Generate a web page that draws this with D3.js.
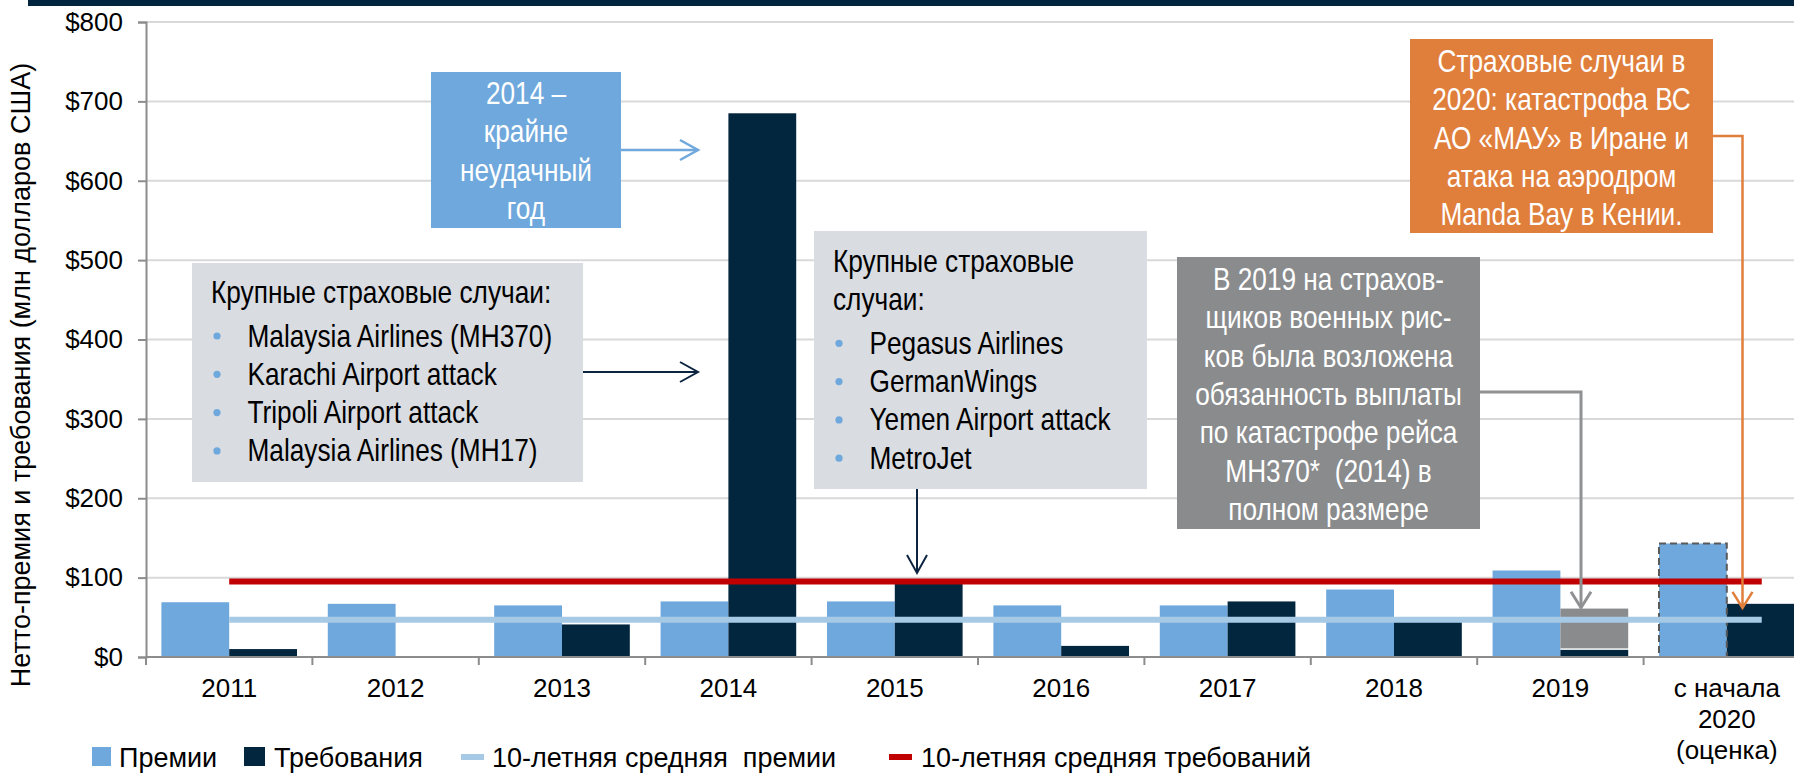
<!DOCTYPE html>
<html>
<head>
<meta charset="utf-8">
<script src="https://cdn.jsdelivr.net/npm/d3@7"></script>
<style>
  body { margin: 0; background: #fff; }
  text { font-family: "Liberation Sans", Arial, sans-serif; white-space: pre; }
</style>
</head>
<body>
<div id="chart"></div>
<script>
// chart data
var years = ["2011", "2012", "2013", "2014", "2015", "2016", "2017", "2018", "2019", "2020"];
var yearLabels = [["2011"], ["2012"], ["2013"], ["2014"], ["2015"], ["2016"], ["2017"], ["2018"], ["2019"], ["с начала", "2020", "(оценка)"]];
var premiums = [69, 67, 65, 70, 70, 65, 65, 85, 109, 143];
var claims = [10, 0, 41, 685, 93, 14, 70, 44, 9, 67];
var mh370Claims = [0, 0, 0, 0, 0, 0, 0, 0, 52, 0];   // MH370 (2014) paid by war-risk insurers in 2019
var avgPremium = 47;
var avgClaims = 95;
var yTicks = [0, 100, 200, 300, 400, 500, 600, 700, 800];
var legendLabels = ["Премии", "Требования", "10-летняя средняя  премии", "10-летняя средняя требований"];

var W = 1794, H = 775;
var margin = {left: 146, top: 22};

var svg = d3.select("#chart").append("svg")
    .attr("width", W)
    .attr("height", H);

// dark strip left from the cut title
svg.append("rect")
    .attr("x", 28).attr("y", 0)
    .attr("width", W - 28).attr("height", 6)
    .attr("fill", "#02253f");

var x = d3.scaleBand()
    .domain(years)
    .range([margin.left, margin.left + 166.4 * years.length]);

var xSub = d3.scaleBand()
    .domain(["premium", "claims"])
    .range([0, x.bandwidth()])
    .paddingOuter(0.227);

var y = d3.scaleLinear()
    .domain([0, 800])
    .range([657, margin.top]);

// gridlines
svg.selectAll("line.grid")
    .data(yTicks.slice(1))
    .enter().append("line")
    .attr("class", "grid")
    .attr("x1", margin.left).attr("x2", W)
    .attr("y1", function(d) { return y(d); })
    .attr("y2", function(d) { return y(d); })
    .attr("stroke", "#d9d9d9")
    .attr("stroke-width", 2);

// y axis
var yAxis = d3.axisLeft(y)
    .tickValues(yTicks)
    .tickSize(8)
    .tickPadding(15)
    .tickFormat(function(d) { return "$" + d; });

var gy = svg.append("g")
    .attr("transform", "translate(" + margin.left + ",0)")
    .call(yAxis);
gy.select(".domain").attr("stroke", "#8c8c8c").attr("stroke-width", 2);
gy.selectAll(".tick line").attr("stroke", "#8c8c8c").attr("stroke-width", 2);
gy.selectAll(".tick text")
    .style("font-size", "26px")
    .attr("fill", "#000");

svg.append("text")
    .attr("transform", "translate(30,375) rotate(-90)")
    .attr("text-anchor", "middle")
    .style("font-size", "27px")
    .text("Нетто-премия и требования (млн долларов США)");

// bars
var groups = svg.selectAll("g.year")
    .data(years)
    .enter().append("g")
    .attr("class", "year")
    .attr("transform", function(d) { return "translate(" + x(d) + ",0)"; });

groups.append("rect")
    .attr("x", xSub("premium"))
    .attr("width", xSub.bandwidth())
    .attr("y", function(d, i) { return y(premiums[i]); })
    .attr("height", function(d, i) { return y(0) - y(premiums[i]); })
    .attr("fill", "#6fa8dc");

groups.append("rect")
    .attr("x", xSub("claims"))
    .attr("width", xSub.bandwidth())
    .attr("y", function(d, i) { return y(claims[i]); })
    .attr("height", function(d, i) { return y(0) - y(claims[i]); })
    .attr("fill", "#03263f");

// MH370 share stacked on top of 2019 claims
groups.filter(function(d, i) { return mh370Claims[i] > 0; })
    .append("rect")
    .attr("x", xSub("claims"))
    .attr("width", xSub.bandwidth())
    .attr("y", function(d) { var i = years.indexOf(d); return y(claims[i] + mh370Claims[i]); })
    .attr("height", function(d) { var i = years.indexOf(d); return y(claims[i]) - y(claims[i] + mh370Claims[i]) - 1.5; })
    .attr("fill", "#898b8d");

// 2020 estimate outlined with a dashed border
groups.filter(function(d) { return d == "2020"; })
    .append("rect")
    .attr("x", xSub("premium"))
    .attr("width", xSub.bandwidth())
    .attr("y", y(premiums[9]))
    .attr("height", y(0) - y(premiums[9]))
    .attr("fill", "none")
    .attr("stroke", "#5a5a5a")
    .attr("stroke-width", 2)
    .attr("stroke-dasharray", "7,4");

// x axis
svg.append("line")
    .attr("x1", margin.left).attr("x2", W)
    .attr("y1", y(0)).attr("y2", y(0))
    .attr("stroke", "#8c8c8c").attr("stroke-width", 2);

svg.selectAll("line.xtick")
    .data(years)
    .enter().append("line")
    .attr("class", "xtick")
    .attr("x1", function(d) { return x(d); })
    .attr("x2", function(d) { return x(d); })
    .attr("y1", y(0)).attr("y2", y(0) + 8)
    .attr("stroke", "#8c8c8c").attr("stroke-width", 2);

svg.selectAll("text.xlab")
    .data(years)
    .enter().append("text")
    .attr("class", "xlab")
    .attr("text-anchor", "middle")
    .attr("x", function(d) { return x(d) + x.bandwidth() / 2; })
    .attr("y", 697)
    .style("font-size", "26px")
    .each(function(d, i) {
        var t = d3.select(this);
        yearLabels[i].forEach(function(line, k) {
            t.append("tspan")
                .attr("x", x(d) + x.bandwidth() / 2)
                .attr("dy", k == 0 ? 0 : 31)
                .text(line);
        });
    });

// 10-year averages
var avgX1 = x(years[0]) + x.bandwidth() / 2;
var avgX2 = x(years[years.length - 1]) + x.bandwidth() * 0.71;

svg.append("line")
    .attr("x1", avgX1).attr("x2", avgX2)
    .attr("y1", y(avgPremium)).attr("y2", y(avgPremium))
    .attr("stroke", "#a6c9e6").attr("stroke-width", 6);

svg.append("line")
    .attr("x1", avgX1).attr("x2", avgX2)
    .attr("y1", y(avgClaims)).attr("y2", y(avgClaims))
    .attr("stroke", "#c00000").attr("stroke-width", 6);

// arrows
function arrow(points, color, width, len, half) {
    svg.append("path")
        .attr("d", d3.line()(points))
        .attr("fill", "none")
        .attr("stroke", color)
        .attr("stroke-width", width);
    var p2 = points[points.length - 1], p1 = points[points.length - 2];
    var a = Math.atan2(p2[1] - p1[1], p2[0] - p1[0]);
    var c = Math.cos(a), s = Math.sin(a);
    var A = [p2[0] - len * c - half * s, p2[1] - len * s + half * c];
    var B = [p2[0] - len * c + half * s, p2[1] - len * s - half * c];
    svg.append("path")
        .attr("d", d3.line()([A, p2, B]))
        .attr("fill", "none")
        .attr("stroke", color)
        .attr("stroke-width", width);
}

arrow([[621, 150], [698, 150]], "#6fa8dc", 2.5, 18, 10);
arrow([[583, 372], [698, 372]], "#0d2440", 2, 18, 10);
arrow([[917, 489], [917, 573]], "#0d2440", 2, 18, 10);
arrow([[1480, 392], [1581, 392], [1581, y(62)]], "#8f9193", 3, 16, 10);
arrow([[1713, 136], [1742.5, 136], [1742.5, y(62)]], "#e07e3c", 2.5, 16, 10);

// narrow text: the boxes use a condensed face, emulate it by squeezing
function narrowText(px, py, str, anchor, color) {
    svg.append("g")
        .attr("transform", "translate(" + px + "," + py + ") scale(0.82,1)")
        .append("text")
        .attr("text-anchor", anchor)
        .attr("fill", color)
        .style("font-size", "32px")
        .text(str);
}

function box(b) {
    svg.append("rect")
        .attr("x", b.x).attr("y", b.y)
        .attr("width", b.w).attr("height", b.h)
        .attr("fill", b.fill);
    b.lines.forEach(function(line, k) {
        narrowText(b.x + b.w / 2, b.base + k * 38.3, line, "middle", "#fff");
    });
}

function listBox(b) {
    svg.append("rect")
        .attr("x", b.x).attr("y", b.y)
        .attr("width", b.w).attr("height", b.h)
        .attr("fill", "#d9dce1");
    b.title.forEach(function(line, k) {
        narrowText(b.x + 19, b.base + k * 38.3, line, "start", "#000");
    });
    var start = b.base + (b.title.length - 1) * 38.3 + 43.5;
    b.items.forEach(function(item, k) {
        svg.append("circle")
            .attr("cx", b.x + 25)
            .attr("cy", start + k * 38.3 - 10.5)
            .attr("r", 3.6)
            .attr("fill", "#6fa8dc");
        narrowText(b.x + 55.5, start + k * 38.3, item, "start", "#000");
    });
}

box({x: 431, y: 72, w: 190, h: 156, fill: "#6fa8dc", base: 104,
     lines: ["2014 –", "крайне", "неудачный", "год"]});

listBox({x: 192, y: 263, w: 391, h: 219, base: 303,
     title: ["Крупные страховые случаи:"],
     items: ["Malaysia Airlines (MH370)", "Karachi Airport attack", "Tripoli Airport attack", "Malaysia Airlines (MH17)"]});

listBox({x: 814, y: 231, w: 333, h: 258, base: 272,
     title: ["Крупные страховые", "случаи:"],
     items: ["Pegasus Airlines", "GermanWings", "Yemen Airport attack", "MetroJet"]});

box({x: 1177, y: 257, w: 303, h: 272, fill: "#898b8d", base: 290,
     lines: ["В 2019 на страхов-", "щиков военных рис-", "ков была возложена", "обязанность выплаты",
             "по катастрофе рейса", "MH370*  (2014) в", "полном размере"]});

box({x: 1410, y: 39, w: 303, h: 194, fill: "#e07e3c", base: 72,
     lines: ["Страховые случаи в", "2020: катастрофа ВС", "АО «МАУ» в Иране и", "атака на аэродром", "Manda Bay в Кении."]});

// legend
var legend = svg.append("g");
legend.append("rect").attr("x", 92).attr("y", 747).attr("width", 19).attr("height", 19).attr("fill", "#6fa8dc");
legend.append("rect").attr("x", 244).attr("y", 747).attr("width", 21).attr("height", 19).attr("fill", "#03263f");
legend.append("line").attr("x1", 461).attr("x2", 484).attr("y1", 757).attr("y2", 757)
    .attr("stroke", "#a6c9e6").attr("stroke-width", 6);
legend.append("line").attr("x1", 889).attr("x2", 912).attr("y1", 757).attr("y2", 757)
    .attr("stroke", "#c00000").attr("stroke-width", 6);
var legendX = [119, 274, 492, 921];
legend.selectAll("text")
    .data(legendLabels)
    .enter().append("text")
    .attr("x", function(d, i) { return legendX[i]; })
    .attr("y", 767)
    .style("font-size", "27px")
    .text(function(d) { return d; });
</script>
</body>
</html>
